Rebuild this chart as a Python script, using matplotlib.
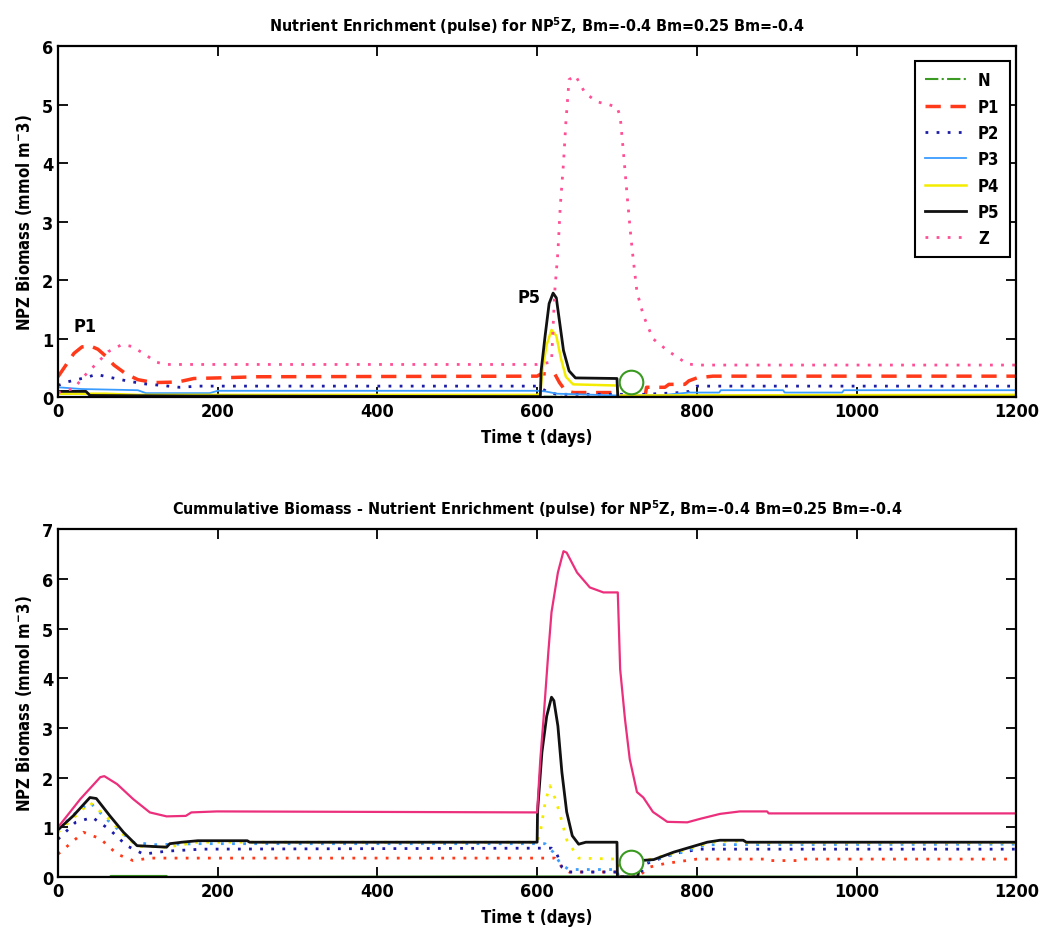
import matplotlib
matplotlib.use("Agg")
import matplotlib.pyplot as plt
from matplotlib.lines import Line2D

# ---- top panel: daily biomass per compartment ----
N_T = [0, 60, 100, 180, 200, 600, 700, 1200]
N_V = [0.06, 0.05, 0.03, 0.05, 0.02, 0.01, 0.0, 0.02]

P1_T = [0, 10, 20, 30, 40, 50, 60, 70, 85, 100, 120, 150, 170, 200, 250, 600, 605, 622,
        628, 635, 645, 700, 702, 735, 737, 760, 765, 785, 790, 800, 820, 1200]
P1_V = [0.35, 0.55, 0.75, 0.86, 0.88, 0.82, 0.7, 0.55, 0.4, 0.3, 0.25, 0.26, 0.32, 0.33, 0.35,
        0.36, 0.4, 0.4, 0.25, 0.12, 0.08, 0.08, 0.0, 0.0, 0.17, 0.17, 0.22, 0.22, 0.28, 0.33,
        0.36, 0.36]

P2_T = [0, 11, 36, 48, 65, 86, 107, 131, 152, 177, 600, 605, 615, 625, 632, 700, 735, 780,
        790, 800, 1200]
P2_V = [0.2, 0.26, 0.34, 0.39, 0.34, 0.28, 0.23, 0.2, 0.17, 0.19, 0.19, 0.15, 0.08, 0.05,
        0.05, 0.05, 0.05, 0.08, 0.1, 0.19, 0.19]

P3_T = [0, 30, 100, 110, 190, 200, 600, 610, 625, 700, 760, 790, 828, 830, 908, 910, 982,
        984, 1200]
P3_V = [0.17, 0.14, 0.12, 0.07, 0.07, 0.11, 0.11, 0.1, 0.06, 0.03, 0.04, 0.08, 0.08, 0.12,
        0.12, 0.08, 0.08, 0.12, 0.12]

P4_T = [0, 60, 100, 600, 604, 607, 612, 618, 624, 630, 636, 645, 700, 702, 1200]
P4_V = [0.06, 0.06, 0.04, 0.04, 0.06, 0.5, 0.9, 1.15, 1.05, 0.65, 0.35, 0.22, 0.2, 0.03, 0.04]

P5_T = [0, 35, 40, 170, 600, 604, 605, 610, 615, 620, 624, 628, 633, 640, 648, 700, 701, 1200]
P5_V = [0.1, 0.1, 0.03, 0.02, 0.01, 0.01, 0.45, 1.05, 1.6, 1.78, 1.7, 1.3, 0.8, 0.45, 0.33,
        0.32, 0.0, 0.0]

Z_T = [0, 20, 32, 50, 63, 80, 92, 107, 123, 135, 600, 618, 622, 626, 629, 633, 636, 640, 648,
       660, 675, 690, 700, 704, 708, 713, 717, 720, 725, 733, 745, 763, 788, 800, 1200]
Z_V = [0.08, 0.15, 0.35, 0.6, 0.78, 0.9, 0.87, 0.75, 0.6, 0.56, 0.56, 0.6, 1.8, 2.48, 3.27,
       4.0, 4.7, 5.43, 5.5, 5.2, 5.05, 5.0, 4.96, 4.8, 4.2, 3.4, 2.8, 2.4, 1.8, 1.4, 1.0, 0.8,
       0.57, 0.55, 0.55]

# ---- bottom panel: cumulative biomass ----
CN_T = [0, 65, 66, 136, 137, 600, 700, 1200]
CN_V = [0.0, 0.0, 0.02, 0.02, 0.0, 0.01, 0.01, 0.0]

CP1_T = [0, 32, 53, 74, 94, 115, 600, 622, 631, 640, 700, 702, 726, 741, 760, 800, 888, 890,
         928, 930, 1200]
CP1_V = [0.46, 0.9, 0.77, 0.46, 0.33, 0.38, 0.38, 0.38, 0.2, 0.1, 0.1, 0.0, 0.0, 0.2, 0.27,
         0.36, 0.36, 0.33, 0.33, 0.36, 0.36]

CP2_T = [0, 22, 43, 65, 86, 107, 136, 180, 600, 618, 625, 631, 640, 700, 702, 726, 737, 771,
         804, 1200]
CP2_V = [0.76, 1.1, 1.2, 0.95, 0.63, 0.46, 0.52, 0.56, 0.58, 0.58, 0.45, 0.2, 0.1, 0.1, 0.0,
         0.0, 0.27, 0.47, 0.56, 0.56]

CP3_T = [0, 19, 40, 65, 94, 120, 175, 600, 610, 620, 630, 640, 700, 702, 726, 730, 771, 813,
         1200]
CP3_V = [0.95, 1.25, 1.5, 1.1, 0.7, 0.65, 0.67, 0.67, 0.67, 0.5, 0.25, 0.15, 0.15, 0.0, 0.0,
         0.28, 0.45, 0.65, 0.66]

CP4_T = [0, 19, 40, 65, 82, 99, 136, 175, 600, 604, 610, 616, 622, 628, 637, 652, 700, 702,
         726, 729, 771, 813, 829, 858, 862, 1200]
CP4_V = [0.9, 1.18, 1.5, 1.15, 0.85, 0.62, 0.6, 0.7, 0.7, 0.9, 1.5, 1.84, 1.6, 1.3, 0.75, 0.38,
         0.36, 0.0, 0.0, 0.3, 0.48, 0.68, 0.72, 0.72, 0.69, 0.69]

CP5_T = [0, 19, 40, 48, 65, 82, 99, 136, 140, 155, 175, 237, 240, 600, 600.5, 606, 612, 618,
         621, 626, 631, 637, 644, 652, 661, 700, 700.5, 726, 729, 746, 771, 792, 813, 829, 858,
         862, 1200]
CP5_V = [0.95, 1.23, 1.6, 1.58, 1.23, 0.9, 0.63, 0.6, 0.67, 0.7, 0.73, 0.73, 0.7, 0.7, 1.31,
         2.51, 3.24, 3.62, 3.55, 3.04, 2.11, 1.31, 0.83, 0.66, 0.7, 0.7, 0.0, 0.0, 0.33, 0.35,
         0.5, 0.6, 0.7, 0.74, 0.74, 0.7, 0.7]

CZ_T = [0, 28, 53, 58, 74, 94, 115, 136, 160, 167, 199, 600, 604, 608, 614, 618, 626, 633, 637,
        650, 666, 683, 701, 704, 710, 716, 725, 733, 745, 763, 788, 804, 829, 854, 888, 890, 1200]
CZ_V = [1.0, 1.57, 2.01, 2.03, 1.87, 1.57, 1.3, 1.22, 1.23, 1.3, 1.32, 1.3, 2.37, 3.18, 4.52,
        5.33, 6.13, 6.56, 6.53, 6.13, 5.83, 5.73, 5.73, 4.18, 3.18, 2.37, 1.71, 1.6, 1.31, 1.11,
        1.1, 1.17, 1.27, 1.32, 1.32, 1.28, 1.28]

# highlighted point after the pulse ends
RING_T = [718]
RING_TOP = [0.26]
RING_BOT = [0.3]

SERIES = ["N", "P1", "P2", "P3", "P4", "P5", "Z"]

C_N = "#3a9a22"
C_P1 = "#ff3a1a"
C_P2 = "#1c1ca8"
C_P3 = "#3b9cff"
C_P4 = "#f4ec00"
C_P5 = "#111111"
C_Z = "#ff4f96"
C_ZC = "#ec2f7c"

plt.rcParams["font.family"] = ["DejaVu Sans"]
plt.rcParams["font.stretch"] = "condensed"
plt.rcParams["font.weight"] = "bold"
plt.rcParams["axes.titleweight"] = "bold"
plt.rcParams["axes.labelweight"] = "bold"
plt.rcParams["mathtext.default"] = "bf"

DOT = (0, (1, 3))

fig = plt.figure(figsize=(10.45, 9.37), dpi=100)
ax1 = fig.add_axes([0.0555, 0.575, 0.917, 0.3746])
ax2 = fig.add_axes([0.0555, 0.063, 0.917, 0.371])

ax1.plot(N_T, N_V, color=C_N, ls="-.", lw=1.5)
ax1.plot(P1_T, P1_V, color=C_P1, ls=(0, (4.4, 2.8)), lw=2.5)
ax1.plot(P2_T, P2_V, color=C_P2, ls=DOT, lw=2)
ax1.plot(P3_T, P3_V, color=C_P3, ls="-", lw=1.3)
ax1.plot(P4_T, P4_V, color=C_P4, ls="-", lw=1.8)
ax1.plot(P5_T, P5_V, color=C_P5, ls="-", lw=2)
ax1.plot(Z_T, Z_V, color=C_Z, ls=DOT, lw=2)
ax1.plot(RING_T, RING_TOP, "o", ms=17, mfc="white", mec=C_N, mew=1.5, zorder=5)
ax1.text(20, 1.21, "P1", fontsize=13, va="center")
ax1.text(575, 1.72, "P5", fontsize=13, va="center")

ax2.plot(CN_T, CN_V, color=C_N, ls="-", lw=1.5)
ax2.plot(CP1_T, CP1_V, color=C_P1, ls=DOT, lw=2)
ax2.plot(CP2_T, CP2_V, color=C_P2, ls=DOT, lw=2)
ax2.plot(CP3_T, CP3_V, color=C_P3, ls=DOT, lw=2)
ax2.plot(CP4_T, CP4_V, color=C_P4, ls=DOT, lw=2)
ax2.plot(CP5_T, CP5_V, color=C_P5, ls="-", lw=2)
ax2.plot(CZ_T, CZ_V, color=C_ZC, ls="-", lw=1.6)
ax2.plot(RING_T, RING_BOT, "o", ms=17, mfc="white", mec=C_N, mew=1.5, zorder=5)

handles = [
    Line2D([], [], color=C_N, ls="-.", lw=1.5),
    Line2D([], [], color=C_P1, ls=(0, (4.4, 2.8)), lw=2.5),
    Line2D([], [], color=C_P2, ls=DOT, lw=2),
    Line2D([], [], color=C_P3, ls="-", lw=1.3),
    Line2D([], [], color=C_P4, ls="-", lw=1.8),
    Line2D([], [], color=C_P5, ls="-", lw=2),
    Line2D([], [], color=C_Z, ls=DOT, lw=2),
]
leg = ax1.legend(handles, SERIES, loc="upper right", bbox_to_anchor=(0.993, 0.957),
                 fancybox=False, framealpha=1, edgecolor="black", fontsize=12,
                 handlelength=2.5, handletextpad=0.7, labelspacing=0.5, borderpad=0.6,
                 borderaxespad=0)
leg.get_frame().set_linewidth(1.5)

for ax, ymax in ((ax1, 6), (ax2, 7)):
    ax.set_xlim(0, 1200)
    ax.set_ylim(0, ymax)
    ax.set_xticks(range(0, 1201, 200))
    ax.set_yticks(range(0, ymax + 1))
    ax.tick_params(direction="in", top=True, right=True, length=7, width=1.3, labelsize=13)
    for s in ax.spines.values():
        s.set_linewidth(1.6)
    ax.set_xlabel("Time t (days)", fontsize=12, labelpad=6)
    ax.set_ylabel("NPZ Biomass (mmol m$^{-}$3)", fontsize=12, labelpad=6)

ax1.set_title("Nutrient Enrichment (pulse) for NP$^{5}$Z, Bm=-0.4 Bm=0.25 Bm=-0.4",
              fontsize=11.5, pad=11)
ax2.set_title("Cummulative Biomass - Nutrient Enrichment (pulse) for NP$^{5}$Z, "
              "Bm=-0.4 Bm=0.25 Bm=-0.4", fontsize=11.5, pad=11)

fig.savefig("out.png", dpi=100)
